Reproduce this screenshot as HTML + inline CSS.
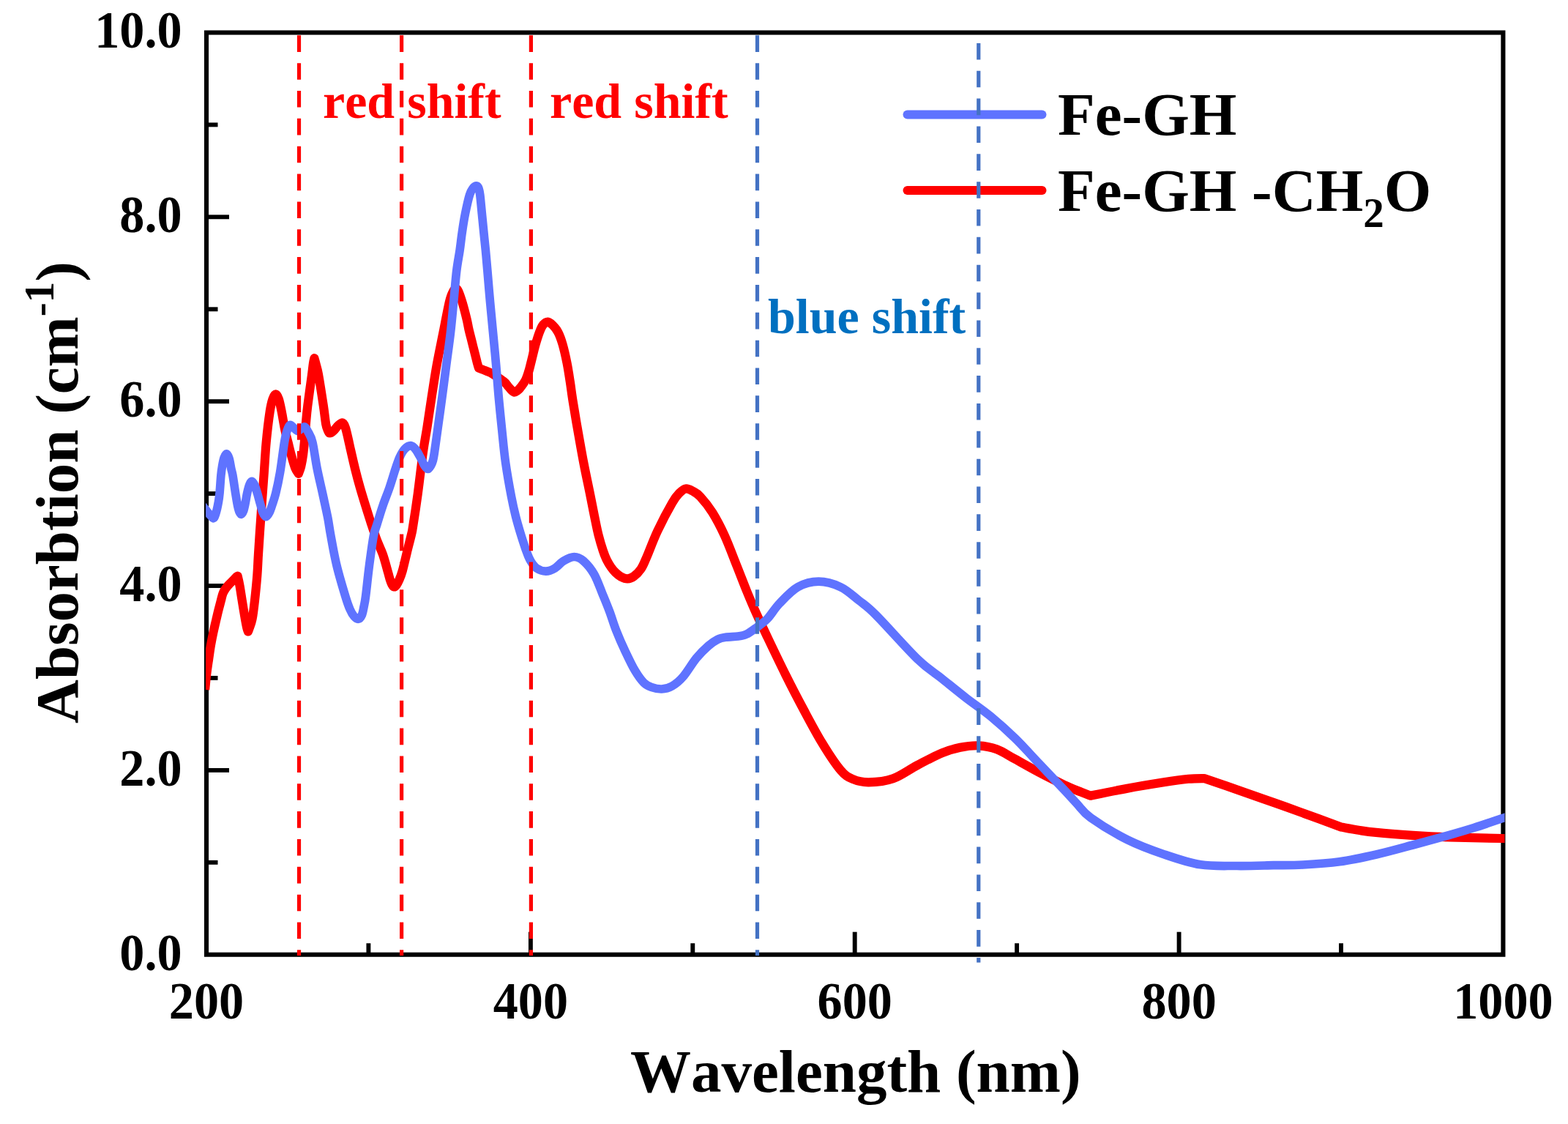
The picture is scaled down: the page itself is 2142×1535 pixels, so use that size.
<!DOCTYPE html>
<html lang="en"><head><meta charset="utf-8"><title>Absorption spectra</title>
<style>
html,body{margin:0;padding:0;background:#fff;}
body{width:2142px;height:1535px;overflow:hidden;}
svg{display:block;}
text{font-family:"Liberation Serif","DejaVu Serif",serif;font-weight:bold;font-kerning:none;}
.tk{font-size:72px;fill:#000;}
.ax{font-size:83px;fill:#000;}
.lg{font-size:83px;fill:#000;}
.an{font-size:68px;}
</style></head><body>
<svg width="2142" height="1535" viewBox="0 0 2142 1535">
<rect x="0" y="0" width="2142" height="1535" fill="#ffffff"/>
<g fill="none" stroke="#000" stroke-width="6.1">
<rect x="282.0" y="44.5" width="1771.4" height="1259.2"/>
</g>
<g stroke="#000" stroke-width="5.9" fill="none">
<line x1="282.0" y1="1177.8" x2="297.5" y2="1177.8"/>
<line x1="282.0" y1="1051.9" x2="313.0" y2="1051.9"/>
<line x1="282.0" y1="925.9" x2="297.5" y2="925.9"/>
<line x1="282.0" y1="800.0" x2="313.0" y2="800.0"/>
<line x1="282.0" y1="674.1" x2="297.5" y2="674.1"/>
<line x1="282.0" y1="548.2" x2="313.0" y2="548.2"/>
<line x1="282.0" y1="422.3" x2="297.5" y2="422.3"/>
<line x1="282.0" y1="296.3" x2="313.0" y2="296.3"/>
<line x1="282.0" y1="170.4" x2="297.5" y2="170.4"/>
<line x1="503.4" y1="1303.7" x2="503.4" y2="1288.2"/>
<line x1="724.9" y1="1303.7" x2="724.9" y2="1272.7"/>
<line x1="946.3" y1="1303.7" x2="946.3" y2="1288.2"/>
<line x1="1167.7" y1="1303.7" x2="1167.7" y2="1272.7"/>
<line x1="1389.1" y1="1303.7" x2="1389.1" y2="1288.2"/>
<line x1="1610.6" y1="1303.7" x2="1610.6" y2="1272.7"/>
<line x1="1832.0" y1="1303.7" x2="1832.0" y2="1288.2"/>
</g>
<text class="tk" transform="translate(248.6 1324.5) scale(0.948 1)" text-anchor="end">0.0</text>
<text class="tk" transform="translate(248.6 1072.7) scale(0.948 1)" text-anchor="end">2.0</text>
<text class="tk" transform="translate(248.6 820.8) scale(0.948 1)" text-anchor="end">4.0</text>
<text class="tk" transform="translate(248.6 569.0) scale(0.948 1)" text-anchor="end">6.0</text>
<text class="tk" transform="translate(248.6 317.1) scale(0.948 1)" text-anchor="end">8.0</text>
<text class="tk" transform="translate(248.6 65.3) scale(0.948 1)" text-anchor="end">10.0</text>
<text class="tk" transform="translate(282.0 1390.5) scale(0.948 1)" text-anchor="middle">200</text>
<text class="tk" transform="translate(724.9 1390.5) scale(0.948 1)" text-anchor="middle">400</text>
<text class="tk" transform="translate(1167.7 1390.5) scale(0.948 1)" text-anchor="middle">600</text>
<text class="tk" transform="translate(1610.6 1390.5) scale(0.948 1)" text-anchor="middle">800</text>
<text class="tk" transform="translate(2053.4 1390.5) scale(0.948 1)" text-anchor="middle">1000</text>
<text class="ax" x="1168.8" y="1490.8" text-anchor="middle">Wavelength (nm)</text>
<text class="ax" transform="translate(106.0 672.5) rotate(-90)" text-anchor="middle">Absorbtion (cm<tspan dy="-33" font-size="57px">-1</tspan><tspan dy="33">)</tspan></text>
<defs><clipPath id="pc"><rect x="281.0" y="44.5" width="1774.5" height="1259.2"/></clipPath></defs>
<g fill="none" stroke-linecap="round" stroke-width="12">
<line x1="1239.5" y1="156.6" x2="1423.5" y2="156.6" stroke="#5f73ff"/>
<line x1="1239.5" y1="259.9" x2="1423.5" y2="259.9" stroke="#ff0000"/>
</g>
<text class="lg" x="1445.0" y="184.2">Fe-GH</text>
<text class="lg" x="1445.0" y="287.5">Fe-GH -CH<tspan dy="22" font-size="57px">2</tspan><tspan dy="-22">O</tspan></text>
<g clip-path="url(#pc)" fill="none" stroke-linejoin="round" stroke-linecap="butt">
<path stroke="#ff0000" stroke-width="12.2" d="M280.1 941.8 C280.5 938.3 281.4 927.8 282.2 921.0 C283.0 914.2 284.0 907.7 285.0 901.0 C286.0 894.3 286.9 887.2 288.0 881.0 C289.1 874.8 290.0 870.0 291.3 864.0 C292.6 858.0 294.4 850.4 295.6 845.2 C296.8 840.0 297.4 837.2 298.5 833.0 C299.6 828.8 300.9 823.8 301.9 820.0 C302.9 816.2 303.5 813.2 304.5 810.5 C305.5 807.8 306.6 806.1 308.0 804.0 C309.4 801.9 311.3 799.8 313.0 798.0 C314.7 796.2 316.5 794.5 318.0 793.0 C319.5 791.5 320.9 789.9 322.0 788.8 C323.1 787.7 324.2 787.0 324.6 786.6 C325.1 788.8 326.5 794.4 327.5 800.0 C328.5 805.6 329.5 812.5 330.7 820.0 C331.9 827.5 333.8 839.0 334.9 845.2 C336.0 851.5 336.6 854.6 337.3 857.5 C338.0 860.4 338.6 861.7 338.9 862.5 C339.2 861.7 339.9 860.4 340.8 857.5 C341.8 854.6 343.4 851.5 344.6 845.2 C345.8 839.0 346.9 829.9 348.0 820.0 C349.1 810.1 350.5 796.3 351.3 786.0 C352.1 775.7 352.3 767.8 352.9 758.0 C353.5 748.2 354.1 738.3 354.9 727.0 C355.7 715.7 356.5 703.7 357.5 690.0 C358.5 676.3 359.8 659.3 360.8 645.0 C361.8 630.7 362.4 617.8 363.7 604.0 C365.0 590.2 367.2 571.8 368.7 562.0 C370.2 552.2 371.2 548.9 372.5 545.0 C373.8 541.1 375.3 538.4 376.7 538.4 C378.1 538.4 379.5 541.1 380.8 545.0 C382.1 548.9 383.3 555.0 384.7 562.0 C386.1 569.0 387.8 580.2 389.3 587.2 C390.8 594.2 392.1 598.4 393.5 604.0 C394.9 609.6 396.1 615.0 397.7 620.8 C399.3 626.5 401.3 634.1 403.0 638.5 C404.7 642.9 407.0 645.5 407.8 646.9 C408.4 645.2 410.1 641.4 411.2 637.0 C412.2 632.6 413.3 627.0 414.1 620.8 C414.9 614.6 415.6 606.9 416.2 600.0 C416.8 593.1 417.1 586.9 417.8 579.2 C418.5 571.5 418.9 565.2 420.3 554.0 C421.7 542.8 424.7 521.7 426.0 512.0 C427.3 502.3 427.4 499.8 428.0 496.0 C428.6 492.2 429.2 490.3 429.4 489.2 C429.8 490.5 430.6 493.2 431.5 497.0 C432.4 500.8 433.4 502.5 435.1 512.0 C436.8 521.5 440.1 542.8 441.8 554.0 C443.5 565.2 444.2 573.5 445.2 579.2 C446.2 584.9 447.1 586.0 448.0 588.0 C448.9 590.0 449.2 591.5 450.5 591.5 C451.8 591.5 454.1 589.8 456.0 588.0 C457.9 586.2 460.0 582.8 462.0 581.0 C464.0 579.2 466.4 576.8 468.1 577.4 C469.8 578.0 470.8 580.9 472.0 584.5 C473.2 588.1 474.4 593.9 475.6 599.0 C476.8 604.1 477.6 608.3 479.2 615.2 C480.8 622.1 483.0 632.0 485.1 640.4 C487.2 648.8 489.4 657.2 491.8 665.6 C494.2 674.0 496.8 682.4 499.4 690.8 C502.0 699.2 504.8 708.1 507.4 716.0 C510.0 723.9 512.4 731.2 515.0 738.0 C517.6 744.8 520.4 749.9 522.9 757.0 C525.4 764.1 528.1 774.6 529.7 780.4 C531.4 786.1 531.8 788.5 532.8 791.5 C533.8 794.5 534.6 796.8 535.5 798.5 C536.4 800.2 537.3 801.4 538.3 801.5 C539.3 801.6 540.4 800.6 541.6 799.0 C542.8 797.4 543.9 795.2 545.3 792.0 C546.7 788.8 548.1 785.6 549.8 779.5 C551.5 773.4 553.7 763.5 555.7 755.2 C557.7 747.0 560.6 736.0 562.0 730.0 C563.4 724.0 562.6 728.3 564.1 719.0 C565.6 709.7 568.5 691.0 570.8 674.0 C573.1 657.0 575.9 632.0 578.0 617.0 C580.1 602.0 581.4 596.5 583.4 584.0 C585.4 571.5 587.5 556.0 589.7 542.0 C591.9 528.0 593.8 514.7 596.4 500.0 C599.0 485.3 602.6 468.7 605.5 454.0 C608.4 439.3 611.8 421.2 614.0 412.0 C616.2 402.8 617.1 402.0 618.5 399.0 C619.9 396.0 621.2 394.2 622.5 394.0 C623.8 393.8 624.8 394.7 626.3 398.0 C627.8 401.3 629.8 407.3 631.7 413.6 C633.6 419.9 636.1 429.9 637.6 436.0 C639.1 442.1 639.3 444.9 640.5 450.0 C641.7 455.1 643.3 461.2 644.7 466.8 C646.1 472.4 647.7 478.9 648.9 483.6 C650.1 488.3 650.9 491.6 651.7 494.8 C652.6 498.0 653.6 501.4 654.0 502.7 C656.0 503.5 663.1 506.2 666.0 507.4 C668.9 508.6 667.9 507.6 671.6 509.9 C675.3 512.2 684.7 518.2 688.4 521.1 C692.1 524.0 692.3 525.6 694.0 527.5 C695.7 529.4 697.1 531.2 698.5 532.6 C699.9 534.0 701.2 535.4 702.6 535.6 C704.0 535.8 705.2 534.9 706.6 533.8 C708.0 532.7 709.4 531.4 711.2 529.0 C713.1 526.6 715.9 523.0 717.7 519.5 C719.5 516.0 720.7 512.0 722.0 508.0 C723.3 504.0 723.7 501.9 725.3 495.6 C726.9 489.3 729.6 477.4 731.6 470.4 C733.6 463.4 735.3 458.1 737.0 453.6 C738.7 449.1 740.1 445.8 742.0 443.5 C743.9 441.2 746.2 439.5 748.4 439.6 C750.6 439.7 752.7 441.7 755.0 444.0 C757.3 446.3 760.0 449.2 762.3 453.6 C764.6 458.0 766.6 463.4 768.6 470.4 C770.6 477.4 772.8 487.2 774.5 495.6 C776.2 504.0 777.3 511.9 778.7 520.8 C780.1 529.7 780.9 537.3 782.8 549.0 C784.7 560.7 787.4 577.0 789.9 591.0 C792.4 605.0 794.7 618.5 797.5 633.0 C800.3 647.5 804.3 666.0 806.7 678.0 C809.1 690.0 810.3 696.5 812.1 705.2 C813.9 713.9 815.5 722.6 817.5 730.4 C819.5 738.2 821.9 746.2 823.8 752.0 C825.7 757.8 827.1 761.2 829.0 765.0 C830.9 768.8 833.0 772.2 835.0 775.0 C837.0 777.8 838.8 779.9 841.0 782.0 C843.2 784.1 845.3 786.1 848.0 787.5 C850.7 788.9 854.2 790.5 857.2 790.4 C860.2 790.3 862.9 789.3 866.0 787.0 C869.1 784.7 872.9 781.0 875.7 776.8 C878.5 772.6 879.1 770.6 882.9 762.0 C886.7 753.4 892.4 737.5 898.3 725.0 C904.2 712.5 913.3 695.3 918.3 686.7 C923.2 678.1 924.9 676.7 928.0 673.5 C931.1 670.3 933.7 668.0 936.7 667.5 C939.7 667.0 942.7 668.7 946.0 670.5 C949.3 672.3 952.2 673.4 956.7 678.3 C961.2 683.2 967.8 691.1 973.3 700.0 C978.8 708.9 984.4 719.5 990.0 731.7 C995.6 743.9 1001.7 760.8 1006.7 773.3 C1011.7 785.8 1015.8 796.8 1020.0 807.0 C1024.2 817.2 1027.0 824.0 1031.7 834.5 C1036.4 845.0 1041.4 855.5 1048.3 870.0 C1055.2 884.5 1065.0 905.0 1073.3 921.7 C1081.6 938.4 1090.0 954.5 1098.3 970.0 C1106.6 985.5 1115.0 1001.4 1123.3 1015.0 C1131.6 1028.6 1141.3 1043.5 1148.3 1051.7 C1155.2 1059.9 1158.6 1061.2 1165.0 1064.0 C1171.4 1066.8 1177.5 1068.4 1186.7 1068.3 C1195.9 1068.2 1208.9 1067.2 1220.0 1063.3 C1231.1 1059.4 1242.2 1050.8 1253.3 1045.0 C1264.4 1039.2 1277.0 1032.3 1286.7 1028.3 C1296.4 1024.3 1303.4 1022.5 1311.7 1020.8 C1320.0 1019.1 1328.4 1017.9 1336.7 1018.3 C1345.0 1018.7 1353.4 1020.2 1361.7 1023.3 C1370.0 1026.4 1377.0 1031.4 1386.7 1036.7 C1396.4 1042.0 1408.9 1049.2 1420.0 1055.0 C1431.1 1060.8 1443.8 1067.2 1453.3 1071.7 C1462.8 1076.2 1470.6 1079.2 1476.7 1081.7 C1482.8 1084.2 1487.8 1085.9 1490.0 1086.7 C1498.3 1085.0 1523.3 1079.8 1540.0 1076.7 C1556.7 1073.6 1576.1 1070.5 1590.0 1068.3 C1603.9 1066.1 1614.1 1064.7 1623.3 1063.8 C1632.5 1062.9 1641.4 1063.1 1645.0 1063.0 C1652.5 1065.6 1674.2 1073.0 1690.0 1078.5 C1705.8 1084.0 1723.3 1090.1 1740.0 1096.0 C1756.7 1101.9 1774.7 1108.4 1790.0 1114.0 C1805.3 1119.6 1825.0 1126.9 1832.0 1129.5 C1836.0 1130.2 1848.0 1132.6 1856.0 1133.8 C1864.0 1135.0 1867.7 1135.7 1880.0 1136.9 C1892.3 1138.1 1913.3 1139.7 1930.0 1140.8 C1946.7 1141.9 1959.5 1142.6 1980.0 1143.3 C2000.5 1144.0 2040.3 1144.7 2053.3 1145.0 C2066.3 1145.3 2057.2 1145.0 2058.0 1145.0"/>
<path stroke="#5f73ff" stroke-width="11.7" d="M276.5 690.5 C277.0 691.1 278.4 692.7 279.5 694.0 C280.6 695.3 281.7 696.8 283.0 698.5 C284.3 700.2 285.9 702.5 287.5 704.0 C289.1 705.5 290.9 708.6 292.3 707.4 C293.7 706.2 295.0 700.7 296.0 697.0 C297.0 693.3 297.8 688.9 298.5 685.0 C299.2 681.1 299.4 679.6 300.0 673.6 C300.6 667.6 301.3 655.1 301.9 649.0 C302.5 642.9 302.8 640.9 303.5 637.0 C304.2 633.1 305.0 628.4 306.0 625.5 C307.0 622.6 308.3 619.8 309.5 619.9 C310.7 620.0 311.9 622.6 313.0 626.0 C314.1 629.4 315.0 636.2 315.8 640.0 C316.6 643.8 316.9 643.4 317.9 649.0 C318.9 654.6 320.6 666.8 321.7 673.6 C322.8 680.4 323.6 685.8 324.5 690.0 C325.4 694.2 326.1 697.0 327.0 699.0 C327.9 701.0 328.8 702.5 329.7 702.3 C330.6 702.1 331.6 700.4 332.5 698.0 C333.4 695.6 334.1 692.1 335.0 688.0 C335.9 683.9 336.6 678.0 337.6 673.6 C338.6 669.2 339.9 664.2 341.0 661.5 C342.1 658.8 343.2 657.2 344.4 657.5 C345.6 657.8 346.8 660.3 348.0 663.0 C349.2 665.7 350.2 669.4 351.5 673.6 C352.8 677.8 354.2 683.6 355.5 688.0 C356.8 692.4 357.7 697.0 359.0 700.0 C360.3 703.0 361.8 705.7 363.3 705.7 C364.8 705.7 366.6 702.8 368.0 700.0 C369.4 697.2 370.6 693.4 372.0 689.0 C373.4 684.6 374.9 680.9 376.7 673.6 C378.5 666.3 380.6 656.6 382.6 645.0 C384.6 633.4 386.9 613.4 388.5 604.0 C390.1 594.6 390.7 592.4 392.0 588.5 C393.3 584.6 394.6 581.1 396.1 580.4 C397.6 579.6 399.3 582.6 401.0 584.0 C402.7 585.4 404.8 588.2 406.5 588.5 C408.2 588.8 409.9 586.4 411.5 585.5 C413.1 584.6 414.6 582.1 416.2 582.9 C417.8 583.6 419.2 586.5 421.0 590.0 C422.8 593.5 424.9 595.7 426.9 604.0 C428.9 612.3 430.9 628.4 433.2 640.0 C435.5 651.6 438.2 662.4 440.6 673.6 C443.0 684.8 446.0 697.8 447.8 707.2 C449.6 716.6 449.6 719.2 451.6 730.0 C453.6 740.8 456.5 758.0 459.9 772.0 C463.2 786.0 468.7 804.0 471.7 814.0 C474.7 824.0 476.0 827.4 478.0 832.0 C480.0 836.6 481.6 839.3 483.5 841.5 C485.4 843.7 487.7 845.5 489.5 845.3 C491.3 845.0 493.0 842.9 494.3 840.0 C495.6 837.1 496.3 832.3 497.2 828.0 C498.1 823.7 498.4 823.3 499.6 814.0 C500.8 804.7 502.7 785.7 504.5 772.0 C506.3 758.3 508.6 741.3 510.3 732.0 C512.0 722.7 512.9 722.9 515.0 716.0 C517.1 709.1 520.0 699.2 522.9 690.8 C525.8 682.4 529.3 674.0 532.2 665.6 C535.1 657.2 537.9 647.2 540.2 640.4 C542.5 633.5 543.9 629.1 546.0 624.5 C548.1 619.9 550.5 615.6 553.0 613.0 C555.5 610.4 558.7 608.4 561.2 608.6 C563.7 608.8 565.7 611.1 568.0 614.0 C570.3 616.9 573.0 622.3 575.0 626.0 C577.0 629.7 578.4 633.6 580.0 636.0 C581.6 638.4 583.3 640.5 584.7 640.5 C586.1 640.5 587.4 637.9 588.5 636.0 C589.6 634.1 590.6 632.1 591.4 629.0 C592.2 625.9 592.4 625.1 593.5 617.6 C594.6 610.1 596.5 596.6 598.2 584.0 C600.0 571.4 602.1 556.0 604.0 542.0 C605.9 528.0 607.6 514.7 609.5 500.0 C611.4 485.3 613.8 468.7 615.5 454.0 C617.2 439.3 618.3 426.0 619.7 412.0 C621.1 398.0 622.3 381.7 623.7 370.0 C625.1 358.3 626.8 350.7 628.1 341.8 C629.4 332.9 630.1 325.0 631.4 316.6 C632.6 308.2 633.9 299.8 635.6 291.4 C637.3 283.0 639.7 272.0 641.5 266.2 C643.3 260.4 644.8 258.6 646.5 256.5 C648.2 254.4 650.4 253.7 651.6 253.9 C652.9 254.1 653.3 255.4 654.0 257.5 C654.7 259.6 655.1 260.6 655.8 266.2 C656.5 271.8 657.5 283.0 658.3 291.4 C659.1 299.8 659.9 308.2 660.8 316.6 C661.6 325.0 662.5 332.9 663.4 341.8 C664.2 350.7 664.9 358.3 665.9 370.0 C666.9 381.7 668.2 398.0 669.5 412.0 C670.8 426.0 672.1 439.3 673.5 454.0 C674.9 468.7 676.5 484.8 677.8 500.0 C679.1 515.2 680.1 529.8 681.5 545.0 C682.9 560.2 684.6 576.3 686.1 591.0 C687.6 605.7 688.7 618.5 690.8 633.0 C692.9 647.5 696.2 666.0 698.5 678.0 C700.8 690.0 702.3 696.5 704.5 705.2 C706.7 713.9 709.1 722.0 711.7 730.4 C714.3 738.8 717.9 749.6 720.1 755.6 C722.3 761.6 723.0 763.1 725.1 766.5 C727.2 769.9 729.6 773.7 733.0 776.0 C736.4 778.3 741.5 780.1 745.7 780.1 C749.9 780.1 754.0 778.4 758.0 776.0 C762.0 773.6 765.6 768.6 770.0 766.0 C774.4 763.4 779.9 760.5 784.4 760.5 C788.9 760.5 792.5 762.1 797.0 766.0 C801.5 769.9 807.2 776.6 811.5 784.0 C815.8 791.4 819.2 801.8 822.8 810.4 C826.4 819.0 829.8 827.2 832.9 835.6 C836.0 844.0 838.2 851.9 841.7 860.8 C845.2 869.7 849.6 879.9 853.9 889.0 C858.2 898.1 863.0 908.4 867.3 915.6 C871.6 922.8 875.7 928.6 879.5 932.4 C883.3 936.2 885.9 937.1 890.0 938.5 C894.1 939.9 899.2 941.2 903.9 941.0 C908.6 940.8 913.1 939.8 918.0 937.0 C922.9 934.2 927.8 930.4 933.3 924.0 C938.8 917.6 945.6 905.8 951.3 898.8 C957.0 891.8 962.9 886.2 967.7 882.0 C972.5 877.8 976.1 875.5 980.0 873.5 C983.9 871.5 986.6 871.0 991.3 870.3 C996.0 869.5 1003.3 869.7 1008.1 869.0 C1012.9 868.3 1016.1 867.8 1020.0 866.0 C1023.9 864.2 1027.0 861.8 1031.7 858.3 C1036.4 854.8 1042.8 850.7 1048.3 845.0 C1053.8 839.3 1058.0 831.2 1065.0 824.0 C1072.0 816.8 1081.1 806.7 1090.0 801.7 C1098.9 796.7 1108.6 794.2 1118.3 794.2 C1128.0 794.2 1139.1 797.4 1148.3 801.7 C1157.5 806.0 1165.2 813.6 1173.3 820.0 C1181.4 826.4 1183.4 826.7 1196.7 840.0 C1210.0 853.3 1238.3 885.5 1253.3 900.0 C1268.3 914.5 1275.6 917.8 1286.7 926.7 C1297.8 935.6 1308.9 944.7 1320.0 953.3 C1331.1 961.9 1342.2 969.1 1353.3 978.3 C1364.4 987.5 1375.6 997.5 1386.7 1008.3 C1397.8 1019.1 1408.9 1031.6 1420.0 1043.3 C1431.1 1055.0 1444.8 1069.3 1453.3 1078.3 C1461.8 1087.3 1464.9 1091.1 1471.0 1097.5 C1477.1 1103.9 1478.5 1108.5 1490.0 1116.7 C1501.5 1124.9 1523.3 1138.4 1540.0 1146.7 C1556.7 1155.0 1573.3 1161.0 1590.0 1166.7 C1606.7 1172.4 1623.3 1178.2 1640.0 1180.8 C1656.7 1183.4 1673.3 1182.3 1690.0 1182.5 C1706.7 1182.7 1725.0 1182.0 1740.0 1181.7 C1755.0 1181.5 1765.0 1181.8 1780.0 1181.0 C1795.0 1180.2 1813.3 1179.1 1830.0 1176.8 C1846.7 1174.5 1863.3 1170.8 1880.0 1167.0 C1896.7 1163.2 1913.3 1158.5 1930.0 1154.0 C1946.7 1149.5 1966.1 1144.2 1980.0 1140.3 C1993.9 1136.4 2001.1 1134.3 2013.3 1130.5 C2025.5 1126.7 2045.9 1119.7 2053.3 1117.2 C2060.8 1114.7 2057.2 1115.9 2058.0 1115.6"/>
</g>
<text class="an" x="441.0" y="160.6" fill="#ff0000">red shift</text>
<text class="an" x="751.0" y="160.6" fill="#ff0000">red shift</text>
<text class="an" x="1049.0" y="455.0" fill="#0070c0">blue shift</text>
<g fill="none" stroke-width="5.2" stroke-dasharray="22.6 15.25">
<line x1="408.5" y1="48.3" x2="408.5" y2="1305.0" stroke="#ff0000"/>
<line x1="548.6" y1="48.3" x2="548.6" y2="1305.0" stroke="#ff0000"/>
<line x1="725.4" y1="48.3" x2="725.4" y2="1305.0" stroke="#ff0000"/>
<line x1="1034.5" y1="48.3" x2="1034.5" y2="1305.0" stroke="#4472c4"/>
<line x1="1336.8" y1="58.9" x2="1336.8" y2="1314.5" stroke="#4472c4"/>
</g>
</svg>
</body></html>
